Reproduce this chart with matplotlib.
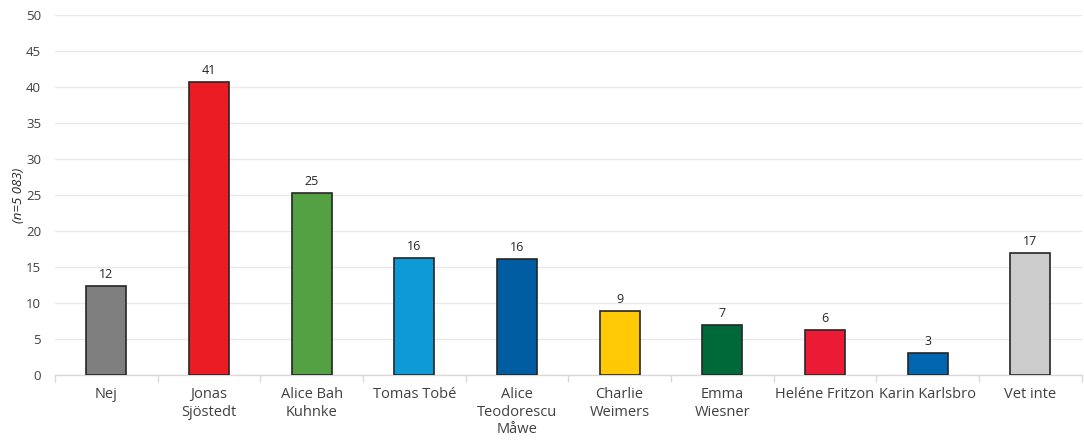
import matplotlib
matplotlib.use("Agg")
import matplotlib.pyplot as plt
import numpy as np

categories = ["Nej", "Jonas\nSjöstedt", "Alice Bah\nKuhnke", "Tomas Tobé",
              "Alice\nTeodorescu\nMåwe", "Charlie\nWeimers", "Emma\nWiesner",
              "Heléne Fritzon", "Karin Karlsbro", "Vet inte"]
values = [12.3, 40.7, 25.3, 16.3, 16.1, 8.9, 6.9, 6.3, 3.1, 17.0]
colors = ["#7F7F7F", "#EC1C24", "#53A143", "#0D9AD7", "#005DA2",
          "#FFCA05", "#00693A", "#EC1B35", "#0066AF", "#CCCCCC"]
yticks = [0, 5, 10, 15, 20, 25, 30, 35, 40, 45, 50]
ylabel = "(n=5 083)"

plt.rcParams['font.family'] = ['Open Sans', 'DejaVu Sans']

fig = plt.figure(figsize=(10.84, 4.41), dpi=100)
ax = fig.add_axes([0.0507, 0.1497, 0.947, 0.816])

x = np.arange(len(categories))
bars = ax.bar(x, values, width=0.39, color=colors, edgecolor="#262626",
              linewidth=1.2, zorder=3)
for xi, v in zip(x, values):
    ax.text(xi, v + 0.7, f"{v:.0f}", ha="center", va="bottom",
            fontsize=9, color="#262626")

ax.set_xlim(-0.5, len(categories) - 0.5)
ax.set_ylim(0, 50)
ax.set_yticks(yticks)
ax.tick_params(axis="y", length=0, labelsize=9.5, colors="#404040", pad=10)
ax.set_xticks(x)
ax.set_xticklabels(categories, fontsize=10.5, color="#404040", linespacing=1.2)
ax.tick_params(axis="x", length=0, pad=9)
ax.set_xticks(np.arange(-0.5, len(categories) + 0.5, 1), minor=True)
ax.tick_params(axis="x", which="minor", length=5, color="#D9D9D9", width=1)

ax.grid(axis="y", color="#E8E8E8", linewidth=1, zorder=0)
for s in ["top", "right", "left"]:
    ax.spines[s].set_visible(False)
ax.spines["bottom"].set_color("#D9D9D9")
ax.spines["bottom"].set_linewidth(1)

fig.text(18 / 1084, 1 - 195 / 441, ylabel, rotation=90, fontsize=9.5,
         style="italic", color="#262626", ha="center", va="center")

fig.savefig("out.png", dpi=100)
